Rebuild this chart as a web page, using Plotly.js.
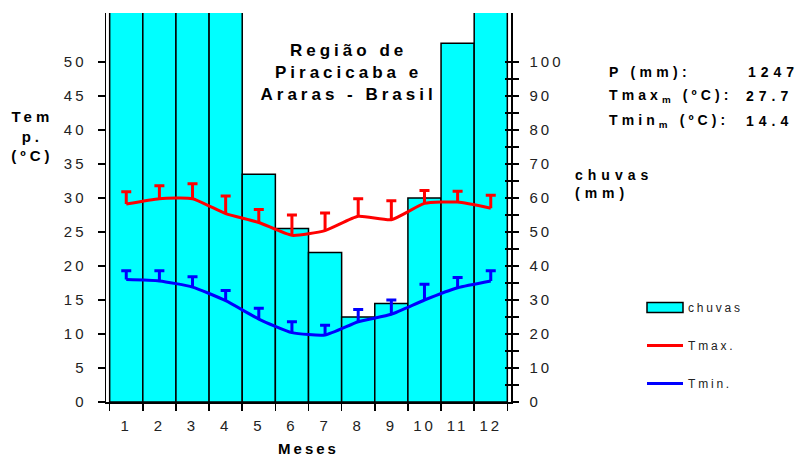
<!DOCTYPE html>
<html>
<head>
<meta charset="utf-8">
<script src="https://cdn.plot.ly/plotly-3.0.1.min.js"></script>
<style>
  html, body { margin: 0; padding: 0; background: #fff; }
  #chart { width: 800px; height: 457px; }
  text { letter-spacing: 3px; }
</style>
</head>
<body>
<div id="chart"></div>
<script>
// ---- data ----
const months = ['1','2','3','4','5','6','7','8','9','10','11','12'];
const rain   = [230, 200, 165, 120, 67, 51, 44, 25, 29, 60, 105.5, 150.5];   // mm
const tmax   = [29.1, 29.9, 29.9, 27.7, 26.4, 24.5, 25.2, 27.3, 26.8, 29.2, 29.4, 28.5];
const tmaxErr= [1.8, 1.9, 2.2, 2.6, 1.9, 3.0, 2.6, 2.6, 2.8, 1.9, 1.6, 1.9];
const tmin   = [18.0, 17.8, 16.9, 14.9, 12.2, 10.2, 9.85, 11.8, 12.9, 15.0, 16.8, 17.8];
const tminErr= [1.3, 1.5, 1.5, 1.5, 1.6, 1.6, 1.45, 1.8, 2.1, 2.3, 1.5, 1.5];
const tempTicks = [0,5,10,15,20,25,30,35,40,45,50];
const rainTicks = [0,10,20,30,40,50,60,70,80,90,100];
const rainMinor = [5,15,25,35,45,55,65,75,85,95];
const statLabels = ['P (mm):', 'Tmax<sub>m</sub> (ºC):', 'Tmin<sub>m</sub> (ºC):'];
const statValues = ['1247', '27.7', '14.4'];

const zeros = months.map(() => 0);
const FONT = 'Liberation Sans, Arial, sans-serif';

const traces = [
  {
    type: 'bar', name: 'chuvas', x: months, y: rain, yaxis: 'y',
    marker: { color: '#00FFFF', line: { color: '#000', width: 1.5 } },
    legendgroup: 'a', hoverinfo: 'skip'
  },
  {
    type: 'scatter', mode: 'lines', name: 'Tmax.', x: months, y: tmax, yaxis: 'y2',
    line: { color: '#FF0000', width: 3, shape: 'spline', smoothing: 0.5 },
    error_y: { type: 'data', symmetric: false, array: tmaxErr, arrayminus: zeros,
               color: '#FF0000', thickness: 3, width: 5 },
    legendgroup: 'b', hoverinfo: 'skip'
  },
  {
    type: 'scatter', mode: 'lines', name: 'Tmin.', x: months, y: tmin, yaxis: 'y2',
    line: { color: '#0000FF', width: 3, shape: 'spline', smoothing: 0.5 },
    error_y: { type: 'data', symmetric: false, array: tminErr, arrayminus: zeros,
               color: '#0000FF', thickness: 3, width: 5 },
    legendgroup: 'c', hoverinfo: 'skip'
  },
  // empty trace that only activates the tick-crossing overlay axis
  { type: 'scatter', x: [], y: [], yaxis: 'y3', showlegend: false, hoverinfo: 'skip' }
];

const px2x = p => (p - 106) / 405;
const py2y = p => (402 - p) / 389;

const annotations = [
  { text: 'Região de<br>Piracicaba e<br>Araras - Brasil', x: px2x(348), y: py2y(73),
    xref: 'paper', yref: 'paper', xanchor: 'center', yanchor: 'middle', showarrow: false,
    font: { family: FONT, size: 17, color: '#000', weight: 'bold' }, align: 'center' },
  { text: 'Tem<br>p.<br>(ºC)', x: px2x(32), y: py2y(136),
    xref: 'paper', yref: 'paper', xanchor: 'center', yanchor: 'middle', showarrow: false,
    font: { family: FONT, size: 15, color: '#000', weight: 'bold' }, align: 'center' },
  { text: 'chuvas<br>(mm)', x: px2x(573), y: py2y(184),
    xref: 'paper', yref: 'paper', xanchor: 'left', yanchor: 'middle', showarrow: false,
    font: { family: FONT, size: 14, color: '#000', weight: 'bold' }, align: 'left' }
];
const statY = [72, 96, 121];
statLabels.forEach((t, i) => {
  annotations.push({ text: t, x: px2x(607), y: py2y(statY[i]), xref: 'paper', yref: 'paper',
    xanchor: 'left', yanchor: 'middle', showarrow: false, align: 'left',
    font: { family: FONT, size: 14, color: '#000', weight: 'bold' } });
  annotations.push({ text: statValues[i], x: px2x(i === 0 ? 801 : 795), y: py2y(statY[i]), xref: 'paper', yref: 'paper',
    xanchor: 'right', yanchor: 'middle', showarrow: false, align: 'right',
    font: { family: FONT, size: 14, color: '#000', weight: 'bold' } });
});

const tickFont = { family: FONT, size: 15, color: '#222' };

const layout = {
  width: 800, height: 457,
  margin: { l: 106, r: 289, t: 13, b: 55, pad: 0 },
  paper_bgcolor: '#fff', plot_bgcolor: '#fff',
  bargap: 0,
  showlegend: true,
  legend: { x: px2x(642), y: py2y(293), xanchor: 'left', yanchor: 'top',
            font: { family: FONT, size: 12, color: '#222' }, tracegroupgap: 19,
            bgcolor: 'rgba(0,0,0,0)', itemwidth: 36 },
  xaxis: {
    type: 'category', tickson: 'boundaries', ticks: 'outside', ticklen: 7, tickwidth: 1.5,
    tickcolor: '#000', showline: true, linecolor: '#000', linewidth: 1.5,
    showgrid: false, zeroline: false, tickfont: tickFont, ticklabelstandoff: 9,
    title: { text: 'Meses', font: { family: FONT, size: 15, color: '#000', weight: 'bold' }, standoff: 11 }
  },
  yaxis: {
    side: 'right', range: [0, 114.4], tickvals: rainTicks, ticks: 'outside', ticklen: 6,
    tickwidth: 1.5, tickcolor: '#000', showline: true, linecolor: '#000', linewidth: 1.5,
    showgrid: false, zeroline: false, tickfont: tickFont, ticklabelstandoff: 8,
    minor: { tickvals: rainMinor, ticks: 'outside', ticklen: 6, tickwidth: 1.5, tickcolor: '#000', showgrid: false }
  },
  yaxis3: {
    overlaying: 'y', side: 'right', range: [0, 114.4], tickvals: rainTicks, ticks: 'inside', ticklen: 6,
    tickwidth: 1.5, tickcolor: '#000', showline: false, showticklabels: false,
    showgrid: false, zeroline: false,
    minor: { tickvals: rainMinor, ticks: 'inside', ticklen: 6, tickwidth: 1.5, tickcolor: '#000', showgrid: false }
  },
  yaxis2: {
    overlaying: 'y', side: 'left', range: [0, 57.2], tickvals: tempTicks, ticks: 'outside', ticklen: 7,
    tickwidth: 1.5, tickcolor: '#000', showline: true, linecolor: '#000', linewidth: 1.5,
    showgrid: false, zeroline: false, tickfont: tickFont, ticklabelstandoff: 8
  },
  annotations: annotations
};

Plotly.newPlot('chart', traces, layout, { staticPlot: true, displayModeBar: false }).then(gd => {
  const ann = gd.querySelectorAll('.annotation-text');
  const spacing = [4, 4, 5, 4.3, 5, 4.1, 5, 4.1, 5];
  ann.forEach((el, i) => { el.style.letterSpacing = (spacing[i] || 3) + 'px'; });
  gd.querySelectorAll('.legendtext').forEach(el => { el.style.letterSpacing = '2.8px'; });
  const sb = gd.querySelector('.legend .scrollbox');
  if (sb) sb.removeAttribute('clip-path');
  // widen the bar legend swatch to a flat box like the reference
  const barSw = gd.querySelector('.legend .traces .legendpoints path');
  if (barSw) barSw.setAttribute('d', 'M18,5H-18V-5H18Z');
  // error bars only point upward: drop the cap at the line point
  gd.querySelectorAll('.errorbar path').forEach(p => {
    const d = p.getAttribute('d');
    if (d) p.setAttribute('d', d.replace(/m-?[\d.]+,0h[\d.]+\s*$/, ''));
  });
});
</script>
</body>
</html>
